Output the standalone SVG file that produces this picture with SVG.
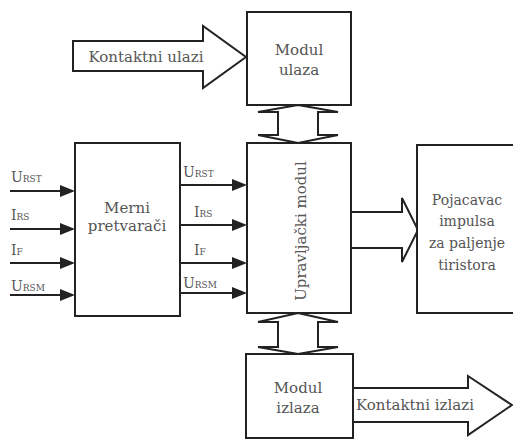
<svg xmlns="http://www.w3.org/2000/svg" xmlns:xlink="http://www.w3.org/1999/xlink" width="513" height="441" viewBox="0 0 513 441">
<style>
.box{fill:#fff;stroke:#222;stroke-width:2}
.big{fill:#fff;stroke:#222;stroke-width:2;stroke-linejoin:miter}
.ln{stroke:#222;stroke-width:2;fill:none}
.c{text-anchor:middle}
</style>
<defs>
<path id="hd" d="M-15,-6 L0,0 L-15,6 z" fill="#222"/>
</defs>
<rect x="0" y="0" width="513" height="441" fill="#fff"/>
<g id="connectors">
<polygon class="big" points="73,41 203,41 203,26 246,57 203,88 203,71 73,71"/>
<polygon class="big" points="298,105 338,112 318,112 318,135 338,135 298,143 258,135 278,135 278,112 258,112"/>
<polygon class="big" points="298,313 338,322 318,322 318,347 338,347 298,354 258,347 278,347 278,322 258,322"/>
<polygon class="big" points="351,212 402,212 402,198 418,230 402,262 402,248 351,248"/>
<polygon class="big" points="353,388 468,388 468,376 512,405 468,435 468,422 353,422"/>
<line class="ln" x1="10" y1="191" x2="64" y2="191"/>
<line class="ln" x1="10" y1="229" x2="64" y2="229"/>
<line class="ln" x1="10" y1="263" x2="64" y2="263"/>
<line class="ln" x1="10" y1="295" x2="64" y2="295"/>
<line class="ln" x1="180" y1="185" x2="236" y2="185"/>
<line class="ln" x1="180" y1="225" x2="236" y2="225"/>
<line class="ln" x1="180" y1="263" x2="236" y2="263"/>
<line class="ln" x1="180" y1="293" x2="236" y2="293"/>
<use xlink:href="#hd" href="#hd" x="75" y="191"/>
<use xlink:href="#hd" href="#hd" x="75" y="229"/>
<use xlink:href="#hd" href="#hd" x="75" y="263"/>
<use xlink:href="#hd" href="#hd" x="75" y="295"/>
<use xlink:href="#hd" href="#hd" x="247" y="185"/>
<use xlink:href="#hd" href="#hd" x="247" y="225"/>
<use xlink:href="#hd" href="#hd" x="247" y="263"/>
<use xlink:href="#hd" href="#hd" x="247" y="293"/>
<g font-family="'DejaVu Serif', serif" font-size="14" fill="#555">
<text class="c" x="146" y="62" font-size="15">Kontaktni ulazi</text>
<text class="c" x="415" y="410" font-size="15">Kontaktni izlazi</text>
<text x="11" y="182">U<tspan font-size="9">RST</tspan></text>
<text x="11" y="220">I<tspan font-size="9">RS</tspan></text>
<text x="11" y="255">I<tspan font-size="9">F</tspan></text>
<text x="11" y="291">U<tspan font-size="9">RSM</tspan></text>
<text x="183" y="177">U<tspan font-size="9">RST</tspan></text>
<text x="194" y="217">I<tspan font-size="9">RS</tspan></text>
<text x="194" y="255">I<tspan font-size="9">F</tspan></text>
<text x="183" y="288">U<tspan font-size="9">RSM</tspan></text>
</g>
</g>
<g id="modul-ulaza" font-family="'DejaVu Serif', serif" font-size="15" fill="#555">
<rect class="box" x="247" y="12" width="104" height="93"/>
<text class="c" x="299" y="55">Modul</text>
<text class="c" x="299" y="75">ulaza</text>
</g>
<g id="merni-pretvaraci" font-family="'DejaVu Serif', serif" font-size="15" fill="#555">
<rect class="box" x="75" y="143" width="105" height="173"/>
<text class="c" x="127" y="213">Merni</text>
<text class="c" x="127" y="231">pretvarači</text>
</g>
<g id="upravljacki-modul" font-family="'DejaVu Serif', serif" font-size="15" fill="#555">
<rect class="box" x="247" y="143" width="104" height="170"/>
<text class="c" x="0" y="0" transform="translate(306,231) rotate(-90)">Upravljački modul</text>
</g>
<g id="pojacavac" font-family="'DejaVu Serif', serif" font-size="14" fill="#555">
<rect class="box" x="417" y="145" width="100" height="168"/>
<text class="c" x="467" y="205">Pojacavac</text>
<text class="c" x="467" y="226">impulsa</text>
<text class="c" x="467" y="248">za paljenje</text>
<text class="c" x="467" y="270">tiristora</text>
</g>
<g id="modul-izlaza" font-family="'DejaVu Serif', serif" font-size="15" fill="#555">
<rect class="box" x="246" y="354" width="107" height="84"/>
<text class="c" x="298" y="393">Modul</text>
<text class="c" x="298" y="413">izlaza</text>
</g>
</svg>
